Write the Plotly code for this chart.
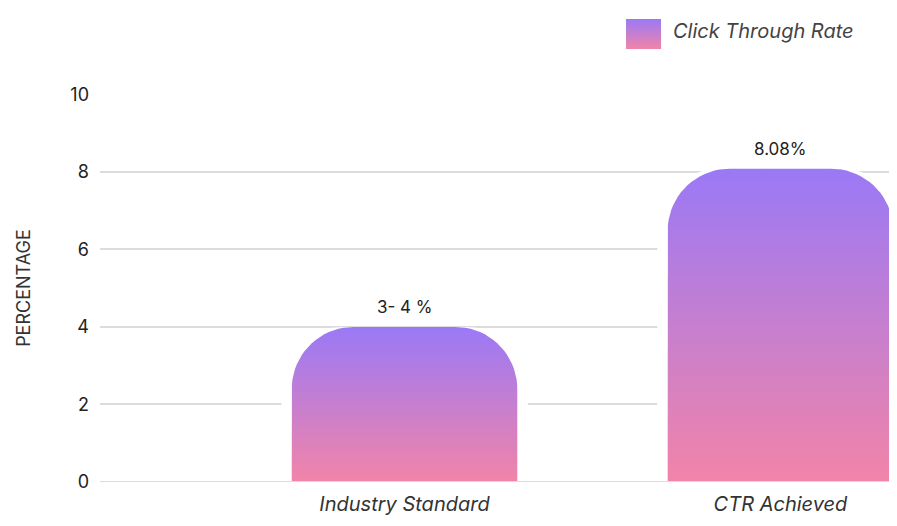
import numpy as np
import plotly.graph_objects as go

categories = ["Industry Standard", "CTR Achieved"]
values = [4.0, 8.08]
value_labels = ["3- 4 %", "8.08%"]
y_ticks = [0, 2, 4, 6, 8, 10]
legend_name = "Click Through Rate"

half_w = 0.3
rx, ry = 0.165, 1.6
grad = dict(type="vertical", colorscale=[[0, "#f284a8"], [1, "#9a79f6"]])


def bar_path(xc, top, pad_x=0.0):
    x0, x1 = xc - half_w - pad_x, xc + half_w + pad_x
    r_y = min(ry, top)
    th = np.linspace(np.pi, np.pi / 2, 20)
    lx = (x0 + rx) + rx * np.cos(th)
    ly = (top - r_y) + r_y * np.sin(th)
    th2 = np.linspace(np.pi / 2, 0, 20)
    rxs = (x1 - rx) + rx * np.cos(th2)
    rys = (top - r_y) + r_y * np.sin(th2)
    xs = np.concatenate([[x0], lx, rxs, [x1, x0]])
    ys = np.concatenate([[0], ly, rys, [0, 0]])
    return xs, ys


fig = go.Figure()
for i, v in enumerate(values):
    xs, ys = bar_path(i, v, 0.028)
    fig.add_trace(go.Scatter(x=xs, y=ys, fill="toself", fillcolor="white",
                             line=dict(width=0), mode="lines",
                             hoverinfo="skip", showlegend=False))
    xs, ys = bar_path(i, v)
    fig.add_trace(go.Scatter(x=xs, y=ys, fill="toself", mode="lines",
                             line=dict(width=0), fillgradient=grad,
                             name=legend_name, showlegend=False))
    fig.add_annotation(x=i, y=v, text=value_labels[i], showarrow=False,
                       yshift=20, font=dict(size=17, color="#222"))

# legend swatch with gradient on its own small axes
fig.add_trace(go.Scatter(x=[0, 1, 1, 0, 0], y=[0, 0, 1, 1, 0], fill="toself",
                         mode="lines", line=dict(width=0), fillgradient=grad,
                         xaxis="x2", yaxis="y2", showlegend=False,
                         hoverinfo="skip"))
fig.add_annotation(xref="paper", yref="paper", x=0.717, y=0.975,
                   xanchor="left", yanchor="middle", showarrow=False,
                   text=legend_name,
                   font=dict(size=20, style="italic", color="#444"))

fig.update_layout(
    width=897, height=526,
    margin=dict(l=92, r=8, t=0, b=52),
    plot_bgcolor="white", paper_bgcolor="white",
    font=dict(family="Inter", color="#222"),
    xaxis=dict(range=[-0.81, 1.31], tickvals=[0, 1], ticktext=categories,
               tickfont=dict(size=20, style="italic", color="#333"),
               showgrid=False, zeroline=False, ticks="", ticklabelstandoff=8),
    yaxis=dict(domain=[0, 0.8376], range=[0, 10], tickvals=y_ticks,
               showgrid=True, gridcolor="#dcdcdc", gridwidth=2, zeroline=False,
               tickfont=dict(size=18, color="#222"), ticklabelstandoff=10,
               title=dict(text="PERCENTAGE", font=dict(size=18, color="#333"),
                          standoff=35)),
    xaxis2=dict(domain=[0.66, 0.704], range=[0, 1], visible=False,
                anchor="y2"),
    yaxis2=dict(domain=[0.935, 1.0], range=[0, 1], visible=False,
                anchor="x2"),
)
fig.add_shape(type="line", xref="paper", x0=0, x1=1, y0=0, y1=0,
              line=dict(color="#dcdcdc", width=2), layer="above")

fig.write_html("out.html")
